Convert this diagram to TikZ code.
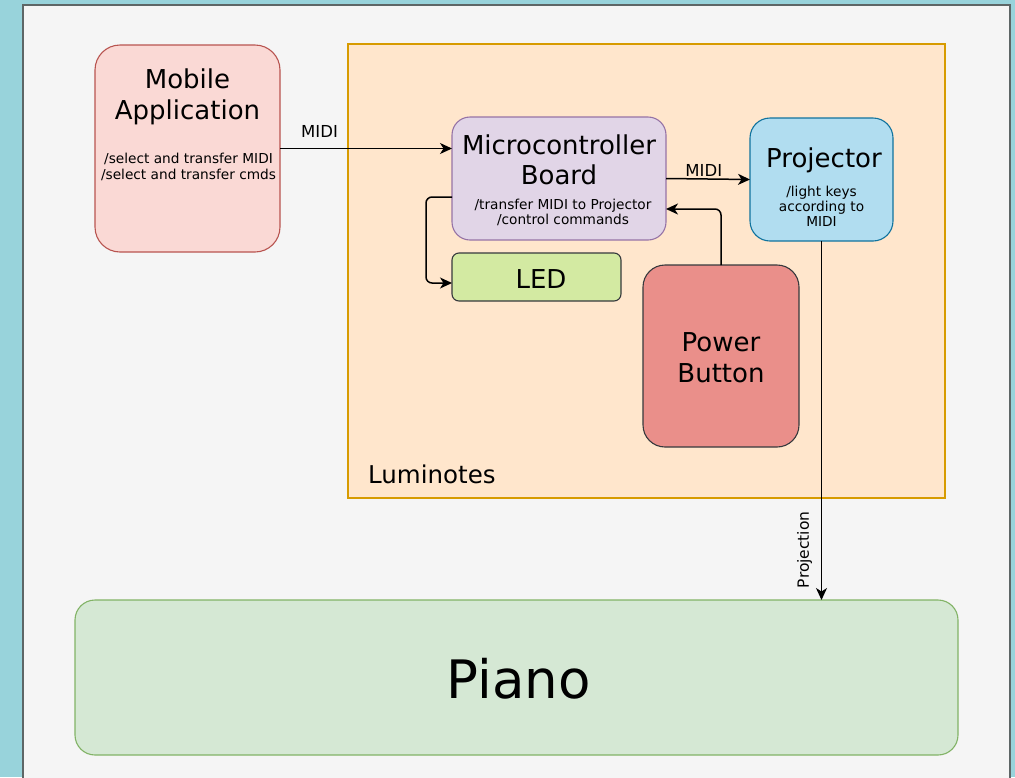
\documentclass[tikz,border=0pt]{standalone}
\usepackage{fontspec}
\setmainfont{DejaVu Sans}
\usetikzlibrary{arrows.meta}
\definecolor{bgteal}{RGB}{152,211,219}
\definecolor{panelgray}{HTML}{F5F5F5}
\definecolor{panelborder}{HTML}{5E6666}
\definecolor{mobfill}{HTML}{FAD9D5}
\definecolor{mobdraw}{HTML}{B85450}
\definecolor{lumifill}{HTML}{FFE6CC}
\definecolor{lumidraw}{HTML}{D79B00}
\definecolor{micfill}{HTML}{E1D5E7}
\definecolor{micdraw}{HTML}{9673A6}
\definecolor{projfill}{HTML}{B1DDF0}
\definecolor{projdraw}{HTML}{10739E}
\definecolor{ledfill}{HTML}{D3EAA2}
\definecolor{darkdraw}{HTML}{36393D}
\definecolor{powfill}{HTML}{EA8F8A}
\definecolor{pianofill}{HTML}{D5E8D4}
\definecolor{pianodraw}{HTML}{82B366}
\begin{document}
\begin{tikzpicture}[x=1pt,y=-1pt,
  box/.style={draw, line width=1.1pt, inner sep=0pt, outer sep=0pt},
  conn/.style={draw=black, line width=1.5pt, -{Stealth[length=12pt,width=11pt,inset=3.5pt]}},
  title/.style={font=\fontsize{26}{31}\selectfont, align=center, inner sep=0pt},
  sub/.style={font=\fontsize{13.7}{16}\selectfont, align=center, inner sep=0pt},
  elabel/.style={font=\fontsize{16.5}{18}\selectfont, inner sep=0pt}]
\useasboundingbox (0,0) rectangle (1015,777);
\fill[bgteal] (0,0) rectangle (1015,777);
\begin{scope}
\clip (0,0) rectangle (1015,777);
\draw[fill=panelgray, draw=panelborder, line width=2pt] (23,5) rectangle (1010,800);
\end{scope}

% containers and boxes
\node[box, fill=lumifill, draw=lumidraw, minimum width=597pt, minimum height=454pt] (lumi) at (646.5,271) {};
\node[font=\fontsize{24.5}{31}\selectfont, anchor=base west, inner sep=0pt] (lumilabel) at (368,483) {Luminotes};

\node[box, fill=mobfill, draw=mobdraw, rounded corners=25pt, minimum width=185pt, minimum height=207pt] (mobile) at (187.5,148.5) {};
\node[title] (mobiletitle) at (187.5,96.6) {Mobile\\Application};
\node[sub] (mobilesub) at (188.5,167) {/select and transfer MIDI\\/select and transfer cmds};

\node[box, fill=micfill, draw=micdraw, rounded corners=18pt, minimum width=214pt, minimum height=123pt] (micro) at (559,178.5) {};
\node[title, font=\fontsize{26}{30}\selectfont] (microtitle) at (559,160.1) {Microcontroller\\Board};
\node[sub, font=\fontsize{13.7}{15}\selectfont] (microsub) at (563,212) {/transfer MIDI to Projector\\/control commands};

\node[box, fill=projfill, draw=projdraw, rounded corners=20pt, minimum width=143pt, minimum height=123pt] (proj) at (821.5,179.5) {};
\node[font=\fontsize{26}{31}\selectfont, anchor=base, inner sep=0pt] (projtitle) at (824,167.3) {Projector};
\node[sub, font=\fontsize{13.7}{15}\selectfont] (projsub) at (821.5,206) {/light keys\\according to\\MIDI};

\node[box, fill=ledfill, draw=darkdraw, rounded corners=7pt, minimum width=169pt, minimum height=48pt] (led) at (536.5,277) {};
\node[font=\fontsize{26}{31}\selectfont, anchor=base, inner sep=0pt] (ledtext) at (541,288.3) {LED};

\node[box, fill=powfill, draw=darkdraw, rounded corners=22pt, minimum width=156pt, minimum height=182pt] (power) at (721,356) {};
\node[title] (powertext) at (721,358) {Power\\Button};

\node[box, fill=pianofill, draw=pianodraw, rounded corners=20pt, minimum width=883pt, minimum height=155pt] (piano) at (516.5,677.5) {};
\node[font=\fontsize{53}{60}\selectfont, anchor=base, inner sep=0pt] (pianotext) at (518.5,698.5) {Piano};

% connectors
\draw[conn] (mobile.east) -- (mobile.east -| micro.west)
  node[elabel, pos=0.23, anchor=base, yshift=11.5pt] (midi1) {MIDI};
\draw[conn] (micro.east) -- (proj.west)
  node[elabel, pos=0.45, anchor=base, yshift=2.5pt] (midi2) {MIDI};
\draw[conn, rounded corners=6pt] ([yshift=-18.5pt]micro.west) -- ++(-26,0) |- ([yshift=-6pt]led.west);
\draw[conn, rounded corners=6pt] (power.north) |- ([yshift=-30.5pt]micro.east);
\draw[conn] (proj.south) -- (proj.south |- piano.north)
  node[elabel, font=\fontsize{15.5}{18}\selectfont, pos=0.86, xshift=-17pt, rotate=90, anchor=center] (projlabel) {Projection};
\end{tikzpicture}
\end{document}
